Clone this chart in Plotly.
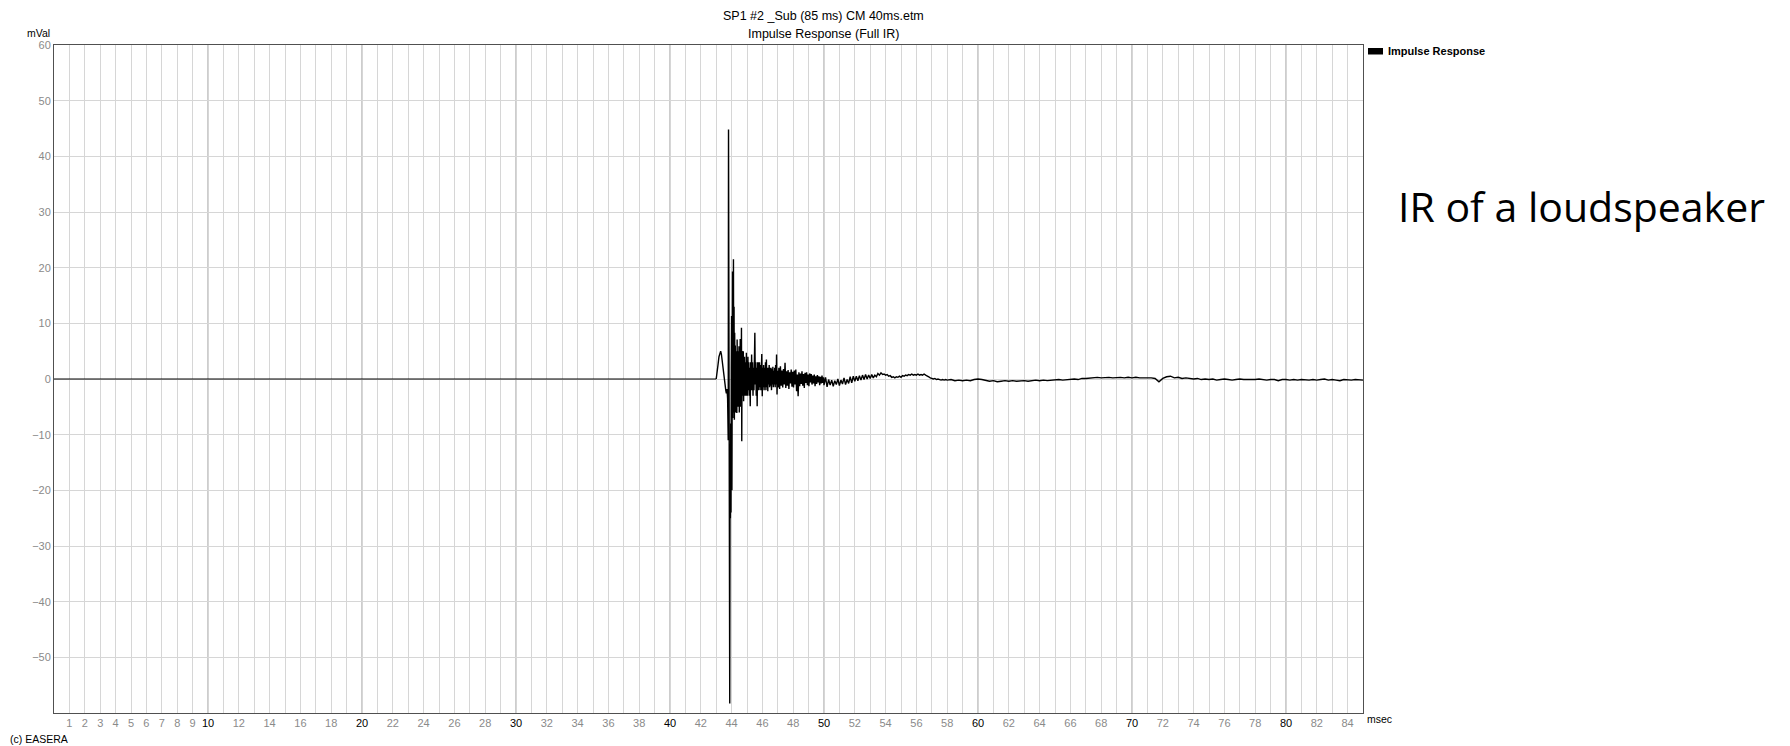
import plotly.graph_objects as go

# ---- measured impulse response (time in ms, amplitude in mV) ----
# onset: silence, small pre-bump, lead-in to the main spike
onset_ms = [0.0, 43.0, 43.06, 43.12, 43.18, 43.24, 43.29, 43.34, 43.40, 43.46,
            43.52, 43.57, 43.62, 43.66, 43.70, 43.74]
onset_mv = [0.0, 0.0, 1.0, 2.6, 4.0, 4.8, 5.0, 4.4, 2.8, 1.0,
            -0.5, -1.5, -2.0, -2.6, -1.8, -3.5]

# main arrival, sampled every 0.02 ms from 43.76 ms
peak_start_ms, peak_step_ms = 43.76, 0.02
peak_mv = [-6, -11, 44.8, -9, -22, -5, -58.3, -15, -25, -8,
           -24, 2, 11.3, -20, 6, 19.3, -7, 10, 21.5, -6,
           13, -7.3, 8.3, -5, 6, -6, 5, -4, 7, -6.1,
           7.1, -3, 5, -5, 4, -4, 5.9, -6, 3, -3,
           7.2, -5, 4, -4, 9.2, -11.2, 5, -6, 4, -3,
           5, -4, 3, -2, 4, -3, 3, -2, 4, -3,
           4.7, -2, 3]

# early decay, every 0.03 ms from 45.03 ms
early_start_ms, early_step_ms = 45.03, 0.03
early_mv = [-3, 4, -2, 3, -3, 2, -4.9, 3, -2, 4.4,
            -2, 3, -3, 2, -2, 5, 8.3, -1, 3, -3,
            2, -4.9, 3, -2, 3, -2, 3, -1.5, 2.5, -2,
            3, 4.5, -3.1, 2, -1.5, 2.5, -2, 2, -1.5, 3,
            -2, 3.5, -1.5, 2, -2.2, 2, -1, 2.5, -1.5, 2,
            -1.2, 2, -2, 1.8, -1, 2.2, -1.5, 1.5, -1, 2,
            -1.5, 2.5, -1, 4.4, -2.8, 1.5]

# late decay, every 0.05 ms from 47.02 ms
late_start_ms, late_step_ms = 47.02, 0.05
late_mv = [-1.5, 2, -1.8, 2.3, -1.2, 1.5, -1.5, 1.8, -1, 2.9,
           -1.6, 1.4, -1.2, 1.6, -1.8, 1.2, -0.8, 1.7, -1.4, 1.3,
           -1.5, 1.5, -1.0, 1.7, -2.2, 0.8, -3.1, 1.2, -1.3, 1.0,
           -0.9, 1.4, -1.2, 0.9, -1.6, 1.1, -0.7, 1.2, -1.1, 0.8,
           -1.3, 1.0, -0.6, 0.9, -1.0, 0.6, -0.8, 0.8, -1.3, 0.5,
           -0.9, 0.7, -0.6, 0.5, -1.1, 0.4, -0.8, 0.6, -0.7, 0.3]

# settling, every 0.1 ms from 50.0 ms
settle_start_ms, settle_step_ms = 50.0, 0.1
settle_mv = [-1.1, 0.3, -1.4, -0.1, -1.1, -0.2, -1.3, -0.3, -1.0, 0.0,
             -1.2, -0.2, -0.9, 0.2, -1.0, -0.1, -0.8, 0.4, -0.7, 0.5,
             -0.4, 0.5, -0.3, 0.6, -0.2, 0.7, -0.1, 0.8, 0.0, 0.7,
             0.1, 0.8, 0.2, 0.7, 0.4, 1.0, 0.7, 1.1, 0.8, 0.9,
             0.7, 0.8, 0.5, 0.6, 0.3, 0.4, 0.2, 0.4, 0.3, 0.5,
             0.3, 0.6, 0.5, 0.7, 0.6, 0.8, 0.7, 0.9, 0.7, 0.8,
             0.7, 0.9, 0.7, 0.8, 0.7, 0.9, 0.7, 0.6, 0.4, 0.2,
             0.1, 0.0, 0.1, -0.1, 0.0, -0.1, -0.2, -0.1, -0.2, -0.1]

# tail, every 0.25 ms from 58.0 ms
tail_start_ms, tail_step_ms = 58.0, 0.25
tail_mv = [-0.2, -0.1, -0.3, -0.2, -0.3, -0.2, -0.3, -0.1, 0.0, -0.1,
           -0.3, -0.4, -0.3, -0.5, -0.4, -0.3, -0.4, -0.3, -0.4, -0.3,
           -0.3, -0.4, -0.3, -0.2, -0.3, -0.2, -0.3, -0.2, -0.2, -0.1,
           -0.2, -0.1, -0.1, 0.0, -0.1, 0.1, 0.1, 0.2, 0.2, 0.3,
           0.2, 0.3, 0.3, 0.2, 0.3, 0.3, 0.2, 0.3, 0.2, 0.3,
           0.2, 0.2, 0.3, 0.2, 0.1, -0.5, 0.1, 0.4, 0.5, 0.2,
           0.3, 0.1, 0.2, 0.1, 0.0, 0.1, -0.1, 0.0, -0.1, 0.0,
           -0.2, -0.1, 0.0, -0.1, -0.2, -0.1, 0.0, -0.1, -0.1, -0.2,
           -0.1, 0.0, -0.1, -0.2, -0.1, -0.1, -0.3, -0.1, -0.1, -0.2,
           -0.1, -0.2, -0.1, -0.2, -0.2, -0.1, -0.2, -0.1, 0.0, -0.2,
           -0.1, -0.2, -0.3, -0.1, -0.2, -0.2, -0.1, -0.2, -0.2]

# axis ticks
x_grid_ms = list(range(0, 86))
x_small_labels = list(range(1, 10)) + [v for v in range(12, 85, 2) if v % 10]
x_major_labels = list(range(10, 81, 10))
y_tick_mv = [-50, -40, -30, -20, -10, 0, 10, 20, 30, 40, 50, 60]

# ---- assemble the trace ----
def sampled(start, step, values):
    return [round(start + step * i, 4) for i in range(len(values))], list(values)

t_ms, amp_mv = list(onset_ms), list(onset_mv)
for start, step, vals in [(peak_start_ms, peak_step_ms, peak_mv),
                          (early_start_ms, early_step_ms, early_mv),
                          (late_start_ms, late_step_ms, late_mv),
                          (settle_start_ms, settle_step_ms, settle_mv),
                          (tail_start_ms, tail_step_ms, tail_mv)]:
    tt, vv = sampled(start, step, vals)
    t_ms += tt
    amp_mv += vv

# ---- page geometry (pixels) ----
W, H = 1790, 746
L, R, T, B = 54, 1363, 45, 713
FONT = "Liberation Sans, Arial, sans-serif"
GRAY = "#8a8a8a"


def px(x):
    return (x - L) / (R - L)


def py(y):
    return (B - y) / (B - T)


tick_text = []
for v in x_grid_ms:
    if v in x_major_labels:
        tick_text.append(f"<span style='color:#000000'>{v}</span>")
    elif v in x_small_labels:
        tick_text.append(str(v))
    else:
        tick_text.append("")

fig = go.Figure()
# silent lead-in drawn thin, the response itself slightly heavier
fig.add_trace(go.Scatter(
    x=t_ms[:2], y=amp_mv[:2], mode="lines",
    line=dict(color="#000000", width=1),
    name="Impulse Response", showlegend=False, hoverinfo="x+y",
))
fig.add_trace(go.Scatter(
    x=t_ms[1:], y=amp_mv[1:], mode="lines",
    line=dict(color="#000000", width=1.4),
    name="Impulse Response", showlegend=False, hoverinfo="x+y",
))

# darker grid lines every 10 ms
shapes = []
for v in x_major_labels:
    shapes.append(dict(type="line", xref="x", yref="paper", x0=v, x1=v, y0=0, y1=1,
                       line=dict(color="#9a9a9a", width=1), layer="between"))
# legend swatch
shapes.append(dict(type="rect", xref="paper", yref="paper",
                   x0=px(1368), x1=px(1383), y0=py(54.5), y1=py(48),
                   fillcolor="#000000", line=dict(width=0)))

annotations = [
    dict(text="SP1 #2 _Sub (85 ms) CM 40ms.etm", x=px(823), y=py(16),
         font=dict(size=12.5, color="#000000", family=FONT)),
    dict(text="Impulse Response (Full IR)", x=px(823), y=py(34),
         font=dict(size=12.5, color="#000000", family=FONT)),
    dict(text="mVal", x=px(38), y=py(33),
         font=dict(size=10.5, color="#000000", family=FONT)),
    dict(text="msec", x=px(1365), y=py(719), xanchor="left",
         font=dict(size=10.5, color="#000000", family=FONT)),
    dict(text="(c) EASERA", x=px(8), y=py(739), xanchor="left",
         font=dict(size=10.5, color="#000000", family=FONT)),
    dict(text="<b>Impulse Response</b>", x=px(1386), y=py(51), xanchor="left",
         font=dict(size=11, color="#000000", family=FONT)),
    dict(text="IR of a loudspeaker", x=px(1396), y=py(206), xanchor="left",
         font=dict(size=41, color="#000000", family="Open Sans, sans-serif")),
]
for a in annotations:
    a.setdefault("xanchor", "center")
    a.update(xref="paper", yref="paper", yanchor="middle", showarrow=False)

fig.update_layout(
    width=W, height=H,
    margin=dict(l=L, r=W - R, t=T, b=H - B, pad=0),
    paper_bgcolor="#ffffff", plot_bgcolor="#ffffff",
    showlegend=False,
    shapes=shapes, annotations=annotations,
    xaxis=dict(
        range=[0, 85], tickmode="array", tickvals=x_grid_ms, ticktext=tick_text,
        showgrid=True, gridcolor="#d6d6d6", gridwidth=1, zeroline=False,
        showline=True, linecolor="#505050", linewidth=1, mirror=True,
        ticks="", tickfont=dict(size=11, color=GRAY, family=FONT),
        fixedrange=True,
    ),
    yaxis=dict(
        range=[-60, 60], tickmode="array", tickvals=y_tick_mv,
        showgrid=True, gridcolor="#d6d6d6", gridwidth=1, zeroline=False,
        showline=True, linecolor="#505050", linewidth=1, mirror=True,
        ticks="", tickfont=dict(size=11, color=GRAY, family=FONT),
        fixedrange=True,
    ),
)

fig.write_html("out.html", config={"displayModeBar": False})
